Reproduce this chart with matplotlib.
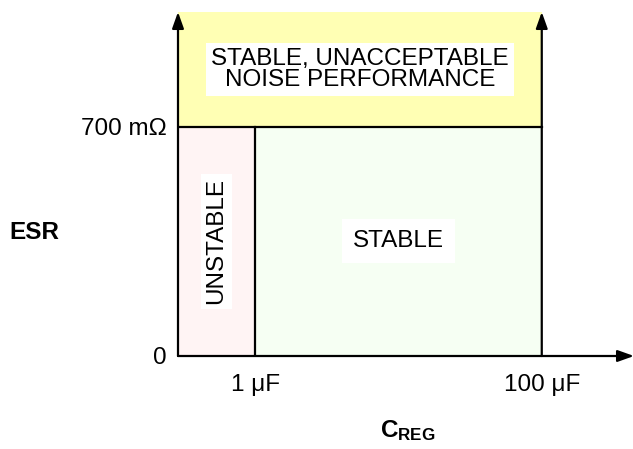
import matplotlib.pyplot as plt

# capacitor axis (uF, log scale) and ESR axis (mOhm)
cap_ticks = [1, 100]
cap_labels = ['1 μF', '100 μF']
esr_ticks = [0, 700]
esr_labels = ['0', '700 mΩ']
cap_range = [0.29, 440]
esr_top = 1050

# operating regions: x span, y span, fill colour, label
region_names = ['noise', 'unstable', 'stable']
region_x = [(0.29, 100), (0.29, 1), (1, 100)]
region_y = [(700, esr_top), (0, 700), (0, 700)]
region_colors = ['#ffffb4', '#fff4f4', '#f6fff3']
region_labels = ['STABLE, UNACCEPTABLE\nNOISE PERFORMANCE', 'UNSTABLE', 'STABLE']
region_rot = [0, 90, 0]
region_pad = [0.22, 0.18, 0.45]

plt.rcParams['font.family'] = ['Liberation Sans', 'DejaVu Sans']
plt.rcParams['mathtext.fontset'] = 'custom'
plt.rcParams['mathtext.bf'] = 'Liberation Sans:bold'
plt.rcParams['mathtext.rm'] = 'Liberation Sans'

fig = plt.figure(figsize=(6.33, 4.49), dpi=100)
ax = fig.add_axes([178 / 633, 93 / 449, 456 / 633, 344 / 449])
ax.set_xscale('log')
ax.set_xlim(cap_range)
ax.set_ylim(0, esr_top)
for s in ax.spines.values():
    s.set_visible(False)

fs = 17.5
lw = 1.6

for (x0, x1), (y0, y1), c, lab, rot, pad in zip(region_x, region_y, region_colors,
                                                region_labels, region_rot, region_pad):
    ax.fill_between([x0, x1], y0, y1, color=c, lw=0, zorder=1)
    xm = (x0 * x1) ** 0.5
    ym = (y0 + y1) / 2
    ax.text(xm, ym, lab, ha='center', va='center', rotation=rot, fontsize=fs,
            linespacing=0.92, zorder=3,
            bbox=dict(boxstyle=f'square,pad={pad}', facecolor='white', edgecolor='none'))

# boundary lines
ax.plot([cap_range[0], cap_ticks[1]], [esr_ticks[1], esr_ticks[1]], color='k', lw=lw, zorder=4)
ax.plot([cap_ticks[0], cap_ticks[0]], [0, esr_ticks[1]], color='k', lw=lw, zorder=4)

arrow = dict(arrowstyle='-|>,head_length=0.7,head_width=0.25', mutation_scale=14,
             color='k', lw=lw, shrinkA=0, shrinkB=0)
ax.annotate('', xy=(cap_range[0], esr_top), xytext=(cap_range[0], 0),
            arrowprops=arrow, zorder=5, annotation_clip=False)
ax.annotate('', xy=(cap_ticks[1], esr_top), xytext=(cap_ticks[1], 0),
            arrowprops=arrow, zorder=5, annotation_clip=False)
ax.annotate('', xy=(cap_range[1], 0), xytext=(cap_range[0], 0),
            arrowprops=arrow, zorder=5, annotation_clip=False)

ax.set_xticks(cap_ticks)
ax.set_xticklabels(cap_labels, fontsize=fs)
ax.xaxis.set_minor_locator(plt.NullLocator())
ax.set_yticks(esr_ticks)
ax.set_yticklabels(esr_labels, fontsize=fs)
ax.tick_params(axis='x', length=0, pad=13)
ax.tick_params(axis='y', length=0, pad=8)

ax.text(-0.316, 0.358, 'ESR', transform=ax.transAxes, ha='center', va='center',
        fontsize=fs, fontweight='bold')
ax.text(0.504, -0.218, r'$\mathbf{C_{REG}}$', transform=ax.transAxes, ha='center',
        va='center', fontsize=fs)

fig.savefig('out.png', dpi=100)
